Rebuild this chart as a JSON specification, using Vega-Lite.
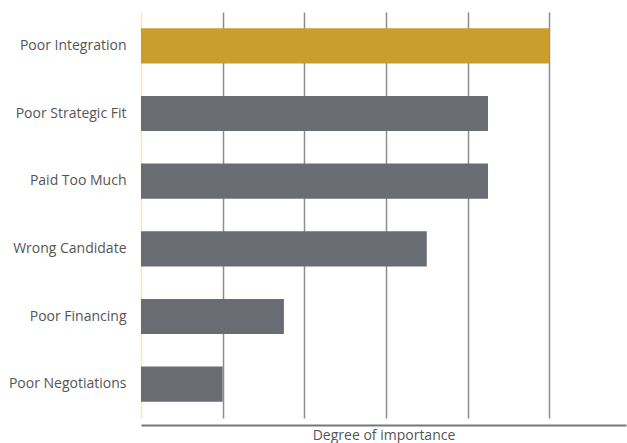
{
  "$schema": "https://vega.github.io/schema/vega-lite/v6.json",
  "autosize": {"type": "none"},
  "padding": {"left": 141, "top": 12, "right": 1, "bottom": 25},
  "width": 485,
  "height": 406,
  "background": "white",
  "config": {
    "view": {"stroke": null},
    "font": "Open Sans"
  },
  "data": {
    "values": [
      {"reason": "Poor Integration", "importance": 5.0, "highlight": "yes"},
      {"reason": "Poor Strategic Fit", "importance": 4.25, "highlight": "no"},
      {"reason": "Paid Too Much", "importance": 4.25, "highlight": "no"},
      {"reason": "Wrong Candidate", "importance": 3.5, "highlight": "no"},
      {"reason": "Poor Financing", "importance": 1.75, "highlight": "no"},
      {"reason": "Poor Negotiations", "importance": 1.0, "highlight": "no"}
    ]
  },
  "mark": {"type": "bar"},
  "encoding": {
    "y": {
      "field": "reason",
      "type": "nominal",
      "sort": null,
      "scale": {"paddingInner": 0.48, "paddingOuter": 0.24},
      "axis": {
        "title": null,
        "domain": false,
        "ticks": false,
        "labelPadding": 15,
        "labelFontSize": 14,
        "labelColor": "#555555",
        "labelFont": "Open Sans"
      }
    },
    "x": {
      "field": "importance",
      "type": "quantitative",
      "scale": {"domain": [0, 5.94], "nice": false, "zero": true},
      "axis": {
        "title": "Degree of importance",
        "titleFont": "Open Sans",
        "titleFontWeight": "normal",
        "titleFontSize": 14,
        "titleColor": "#555555",
        "titlePadding": 3,
        "labels": false,
        "ticks": false,
        "values": [0, 1, 2, 3, 4, 5],
        "domain": true,
        "domainColor": "#76777c",
        "domainWidth": 2,
        "offset": 7,
        "grid": true,
        "gridWidth": 1.5,
        "gridColor": {
          "condition": {"test": "datum.value == 0", "value": "#f6e7bf"},
          "value": "#8c8d91"
        }
      }
    },
    "color": {
      "field": "highlight",
      "type": "nominal",
      "scale": {"domain": ["yes", "no"], "range": ["#ca9e2d", "#696c73"]},
      "legend": null
    }
  }
}
